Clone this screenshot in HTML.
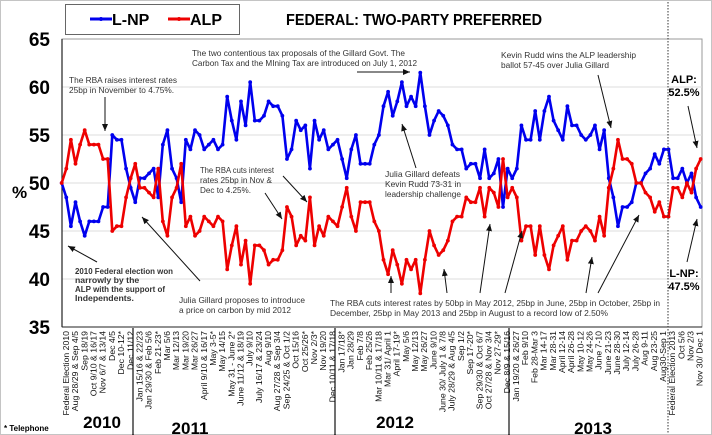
<!DOCTYPE html>
<html><head><meta charset="utf-8"><style>
body{margin:0;background:#fff;}
svg{display:block;font-family:"Liberation Sans",Arial,sans-serif;}
.ann{font-size:8.7px;fill:#333;}
.xl{font-size:8.7px;fill:#111;}
</style></head><body>
<svg id="chart" width="712" height="435" viewBox="0 0 712 435">
<defs><marker id="ah" markerWidth="8" markerHeight="8" refX="7" refY="4" orient="auto"><path d="M0,1 L7,4 L0,7 z" fill="#111"/></marker></defs>
<rect x="0.5" y="0.5" width="711" height="434" fill="#fff" stroke="#888" stroke-dasharray="1,1"/>
<rect x="62" y="39" width="640" height="288" fill="#fff" stroke="#999"/>
<g id="grid"></g>
<line x1="62" y1="39" x2="62" y2="327" stroke="#222" stroke-width="1.2"/>
<line x1="62" y1="327" x2="702" y2="327" stroke="#222" stroke-width="1"/>
<text x="12" y="198" font-size="17" font-weight="bold">%</text>
<g id="ylabels"></g>
<g id="xlabels"></g>
<g id="series"></g>
<line x1="668" y1="2" x2="668" y2="433" stroke="#333" stroke-dasharray="1.5,1.5"/>
<line x1="133" y1="328" x2="133" y2="435" stroke="#111" stroke-width="1.2"/>
<line x1="335" y1="328" x2="335" y2="435" stroke="#111" stroke-width="1.2"/>
<line x1="509" y1="328" x2="509" y2="435" stroke="#111" stroke-width="1.2"/>
<text x="102" y="428" font-size="17" font-weight="bold" text-anchor="middle">2010</text>
<text x="190" y="434" font-size="17" font-weight="bold" text-anchor="middle">2011</text>
<text x="395" y="428" font-size="17" font-weight="bold" text-anchor="middle">2012</text>
<text x="593" y="434" font-size="17" font-weight="bold" text-anchor="middle">2013</text>
<text x="4" y="431" font-size="8" font-weight="bold">* Telephone</text>
<g>
<rect x="65.5" y="4.5" width="174" height="30" fill="#fff" stroke="#666"/>
<g><line x1="90" y1="19" x2="112" y2="19" stroke="#0000ee" stroke-width="3"/><circle cx="101" cy="19" r="2" fill="#0000ee"/><text x="112" y="25" font-size="16" font-weight="bold">L-NP</text></g>
<g><line x1="168" y1="19" x2="190" y2="19" stroke="#ee0000" stroke-width="3"/><circle cx="179" cy="19" r="2" fill="#ee0000"/><text x="190" y="25" font-size="16" font-weight="bold">ALP</text></g>
</g>
<text x="286" y="25" font-size="16" font-weight="bold" textLength="256" lengthAdjust="spacingAndGlyphs">FEDERAL: TWO-PARTY PREFERRED</text>
<g>
<text class="ann" x="69" y="83" textLength="108" lengthAdjust="spacingAndGlyphs">The RBA raises interest rates</text><text class="ann" x="69" y="93" textLength="105" lengthAdjust="spacingAndGlyphs">25bp in November to 4.75%.</text>
<line x1="105" y1="97" x2="105" y2="131" stroke="#111" marker-end="url(#ah)"/>
<text class="ann" x="192" y="56" textLength="213" lengthAdjust="spacingAndGlyphs">The two contentious tax proposals of the Gillard Govt. The</text><text class="ann" x="192" y="66" textLength="225" lengthAdjust="spacingAndGlyphs">Carbon Tax and the MIning Tax are introduced on July 1, 2012</text>
<line x1="357" y1="72" x2="410" y2="72" stroke="#111" marker-end="url(#ah)"/>
<text class="ann" x="501" y="58" textLength="135" lengthAdjust="spacingAndGlyphs">Kevin Rudd wins the ALP leadership</text><text class="ann" x="501" y="68" textLength="108" lengthAdjust="spacingAndGlyphs">ballot 57-45 over Julia Gillard</text>
<line x1="598" y1="75" x2="611" y2="128" stroke="#111" marker-end="url(#ah)"/>
<text x="684" y="83" font-size="11" font-weight="bold" text-anchor="middle">ALP:</text><text x="684" y="96" font-size="11" font-weight="bold" text-anchor="middle">52.5%</text>
<line x1="688" y1="106" x2="697" y2="148" stroke="#111" marker-end="url(#ah)"/>
<text class="ann" x="200" y="173" textLength="74" lengthAdjust="spacingAndGlyphs">The RBA cuts interest</text><text class="ann" x="200" y="183" textLength="72" lengthAdjust="spacingAndGlyphs">rates 25bp in Nov &amp;</text><text class="ann" x="200" y="193" textLength="51" lengthAdjust="spacingAndGlyphs">Dec to 4.25%.</text>
<line x1="283" y1="176" x2="307" y2="202" stroke="#111" marker-end="url(#ah)"/>
<line x1="265" y1="193" x2="282" y2="219" stroke="#111" marker-end="url(#ah)"/>
<text class="ann" x="385" y="177" textLength="75" lengthAdjust="spacingAndGlyphs">Julia Gillard defeats</text><text class="ann" x="385" y="187" textLength="76" lengthAdjust="spacingAndGlyphs">Kevin Rudd 73-31 in</text><text class="ann" x="385" y="197" textLength="76" lengthAdjust="spacingAndGlyphs">leadership challenge</text>
<line x1="416" y1="168" x2="402" y2="124" stroke="#111" marker-end="url(#ah)"/>
<text class="ann" x="75" y="274" font-weight="bold" textLength="98" lengthAdjust="spacingAndGlyphs">2010 Federal election won</text><text class="ann" x="75" y="283" font-weight="bold">narrowly by the</text><text class="ann" x="75" y="292" font-weight="bold" textLength="90" lengthAdjust="spacingAndGlyphs">ALP with the support of</text><text class="ann" x="75" y="301" font-weight="bold">Independents.</text>
<line x1="97" y1="262" x2="68" y2="246" stroke="#111" marker-end="url(#ah)"/>
<text class="ann" x="179" y="303" textLength="126" lengthAdjust="spacingAndGlyphs">Julia Gillard proposes to introduce</text><text class="ann" x="179" y="313" textLength="112" lengthAdjust="spacingAndGlyphs">a price on carbon by mid 2012</text>
<line x1="200" y1="281" x2="142" y2="217" stroke="#111" marker-end="url(#ah)"/>
<text class="ann" x="330" y="306" textLength="330" lengthAdjust="spacingAndGlyphs">The RBA cuts interest rates by 50bp in May 2012, 25bp in June, 25bp in October, 25bp in</text><text class="ann" x="330" y="316" textLength="278" lengthAdjust="spacingAndGlyphs">December, 25bp in May 2013 and 25bp in August to a record low of 2.50%</text>
<line x1="391" y1="293" x2="391" y2="276" stroke="#111" marker-end="url(#ah)"/>
<line x1="447" y1="293" x2="444" y2="269" stroke="#111" marker-end="url(#ah)"/>
<line x1="480" y1="293" x2="490" y2="224" stroke="#111" marker-end="url(#ah)"/>
<line x1="505" y1="293" x2="522" y2="231" stroke="#111" marker-end="url(#ah)"/>
<line x1="586" y1="293" x2="592" y2="257" stroke="#111" marker-end="url(#ah)"/>
<line x1="598" y1="293" x2="639" y2="215" stroke="#111" marker-end="url(#ah)"/>
<text x="684" y="277" font-size="11" font-weight="bold" text-anchor="middle">L-NP:</text><text x="684" y="290" font-size="11" font-weight="bold" text-anchor="middle">47.5%</text>
<line x1="687" y1="262" x2="697" y2="219" stroke="#111" marker-end="url(#ah)"/>
</g>
</svg>
<script>
const yTicks = [35, 40, 45, 50, 55, 60, 65];
const lnp = [50,48.5,45.5,48,46,44.5,46,46,46,47.5,47.5,55,54.5,54.5,51.5,49.5,48,50.5,50.5,51,51.5,48.5,54,55.5,51.5,50.5,48,54.5,53.5,55.5,55,53.5,54,54.5,53.5,54,
59,56.5,54.5,58.5,56,60.5,56.5,56.5,57,58.5,58,58,57,52.5,53.5,56.5,55.5,56,51.5,56.5,54.5,55.5,53.5,54,54.5,52.5,50.5,53.5,55,52,52,52,54,55,58,
59.5,57,58.5,60.5,58,59,58,61.5,58,55,56.5,57.5,57,56,54,53.5,53.5,51.5,52,52,50.5,53.5,50.5,51,52.5,47.5,51.5,50.5,51.5,56,54.5,54.5,57.5,54.5,57.5,
59,56.5,55.5,54.5,58,56,56,55,54.5,55,56,53.5,55.5,50.5,48.5,45.5,47.5,47.5,48,50,50,51,51.5,53,52,53.5,53.5,50.5,50.5,51.5,50,51,48.5,47.5];
const alp = [50,51.5,54.5,52,54,55.5,54,54,54,52.5,52.5,45,45.5,45.5,48.5,50.5,52,49.5,49.5,49,48.5,51.5,46,44.5,48.5,49.5,52,45.5,46.5,44.5,45,46.5,46,45.5,46.5,46,
41,43.5,45.5,41.5,44,39.5,43.5,43.5,43,41.5,42,42,43,47.5,46.5,43.5,44.5,44,48.5,43.5,45.5,44.5,46.5,46,45.5,47.5,49.5,46.5,45,48,48,48,46,45,42,
40.5,43,41.5,39.5,42,41,42,38.5,42,45,43.5,42.5,43,44,46,46.5,46.5,48.5,48,48,49.5,46.5,49.5,49,47.5,52.5,48.5,49.5,48.5,44,45.5,45.5,42.5,45.5,42.5,
41,43.5,44.5,45.5,42,44,44,45,45.5,45,44,46.5,44.5,49.5,51.5,54.5,52.5,52.5,52,50,50,49,48.5,47,48,46.5,46.5,49.5,49.5,48.5,50,49,51.5,52.5];
const xLabels = ["Federal Election 2010","Aug 28/29 & Sep 4/5","Sep 18/19","Oct 9/10 & 16/17","Nov 6/7 & 13/14","Dec 4/5","Dec 10-12*","Dec 11/12",
"Jan 15/16 & 22/23","Jan 29/30 & Feb 5/6","Feb 21-23*","Mar 5/6","Mar 12/13","Mar 19/20","Mar 26/27","April 9/10 & 16/17","May 3-5*","May 14/15","May 31 - June 2*","June 11/12 & 18/19","July 9/10","July 16/17 & 23/24","Aug 9/10","Aug 27/28 & Sep 3/4","Sep 24/25 & Oct 1/2","Oct 15/16","Oct 25/26*","Nov 2/3*","Nov 19/20","Dec 10/11 & 17/18",
"Jan 17/18*","Jan 28/29","Feb 7/8","Feb 25/26","Mar 10/11 & 17/18","Mar 31/ April 1","April 17-19*","May 5/6","May 12/13","May 26/27","June 9/10","June 30/ July 1 & 7/8","July 28/29 & Aug 4/5","Sep 1/2","Sep 17-20*","Sep 29/30 & Oct 6/7","Oct 27/28 & Nov 3/4","Nov 27-29*","Dec 8/9 & 15/16",
"Jan 19/20 & 26/27","Feb 9/10","Feb 28-Mar 3","Mar 14-17","Mar 28-31","April 12-14","April 26-28","May 10-12","May 24-26","June 7-10","June 21-23","June 28-30","July 12-14","July 26-28","Aug 9-11","Aug 23-25","Aug30-Sep 1","Federal Election 2013","Oct 5/6","Nov 2/3","Nov 30/ Dec 1"];

const NS = "http://www.w3.org/2000/svg";
const X0 = 61.7, X1 = 700.7, Y0 = 39, Y1 = 327, VMIN = 35, VMAX = 65;
function yScale(v){ return Y1 - (v - VMIN) / (VMAX - VMIN) * (Y1 - Y0); }
function xScale(i, n){ return X0 + i * (X1 - X0) / (n - 1); }
function labelX(i){ return 66 + i * (X1 - 1 - 66) / (xLabels.length - 1); }
function mk(tag, attrs, parent){ const e = document.createElementNS(NS, tag); for (const k in attrs) e.setAttribute(k, attrs[k]); parent.appendChild(e); return e; }

const grid = document.getElementById('grid');
const yl = document.getElementById('ylabels');
yTicks.forEach(t => {
  if (t > VMIN && t < VMAX) {
    const g = mk('line', {x1: 62, x2: 702, y1: yScale(t), y2: yScale(t), stroke: '#dcdcdc'}, grid);
    
    
  }
  const tx = mk('text', {x: 50, y: yScale(t) + 7, 'text-anchor': 'end', 'font-size': 19, 'font-weight': 'bold'}, yl);
  tx.textContent = t;
  
  
});

const xl = document.getElementById('xlabels');
xLabels.forEach((s, i) => {
  const x = labelX(i);
  const tx = mk('text', {class: 'xl', x: 0, y: 0, 'text-anchor': 'end', transform: `translate(${x + 3},331) rotate(-90)`}, xl);
  tx.textContent = s;
  
  
});

const sg = document.getElementById('series');
function drawSeries(vals, color, name){
  const g = mk('g', {}, sg);
  
  
  const pts = vals.map((v, i) => xScale(i, vals.length).toFixed(1) + ',' + yScale(v).toFixed(1)).join(' ');
  const pl = mk('polyline', {points: pts, fill: 'none', stroke: color, 'stroke-width': 2.6, 'stroke-linejoin': 'round'}, g);
  
  
  vals.forEach((v, i) => {
    const c = mk('circle', {cx: xScale(i, vals.length), cy: yScale(v), r: 1.9, fill: color}, g);
    
    
  });
}
drawSeries(lnp, '#0000ee', 'lnp');
drawSeries(alp, '#ee0000', 'alp');
</script>
</body></html>
